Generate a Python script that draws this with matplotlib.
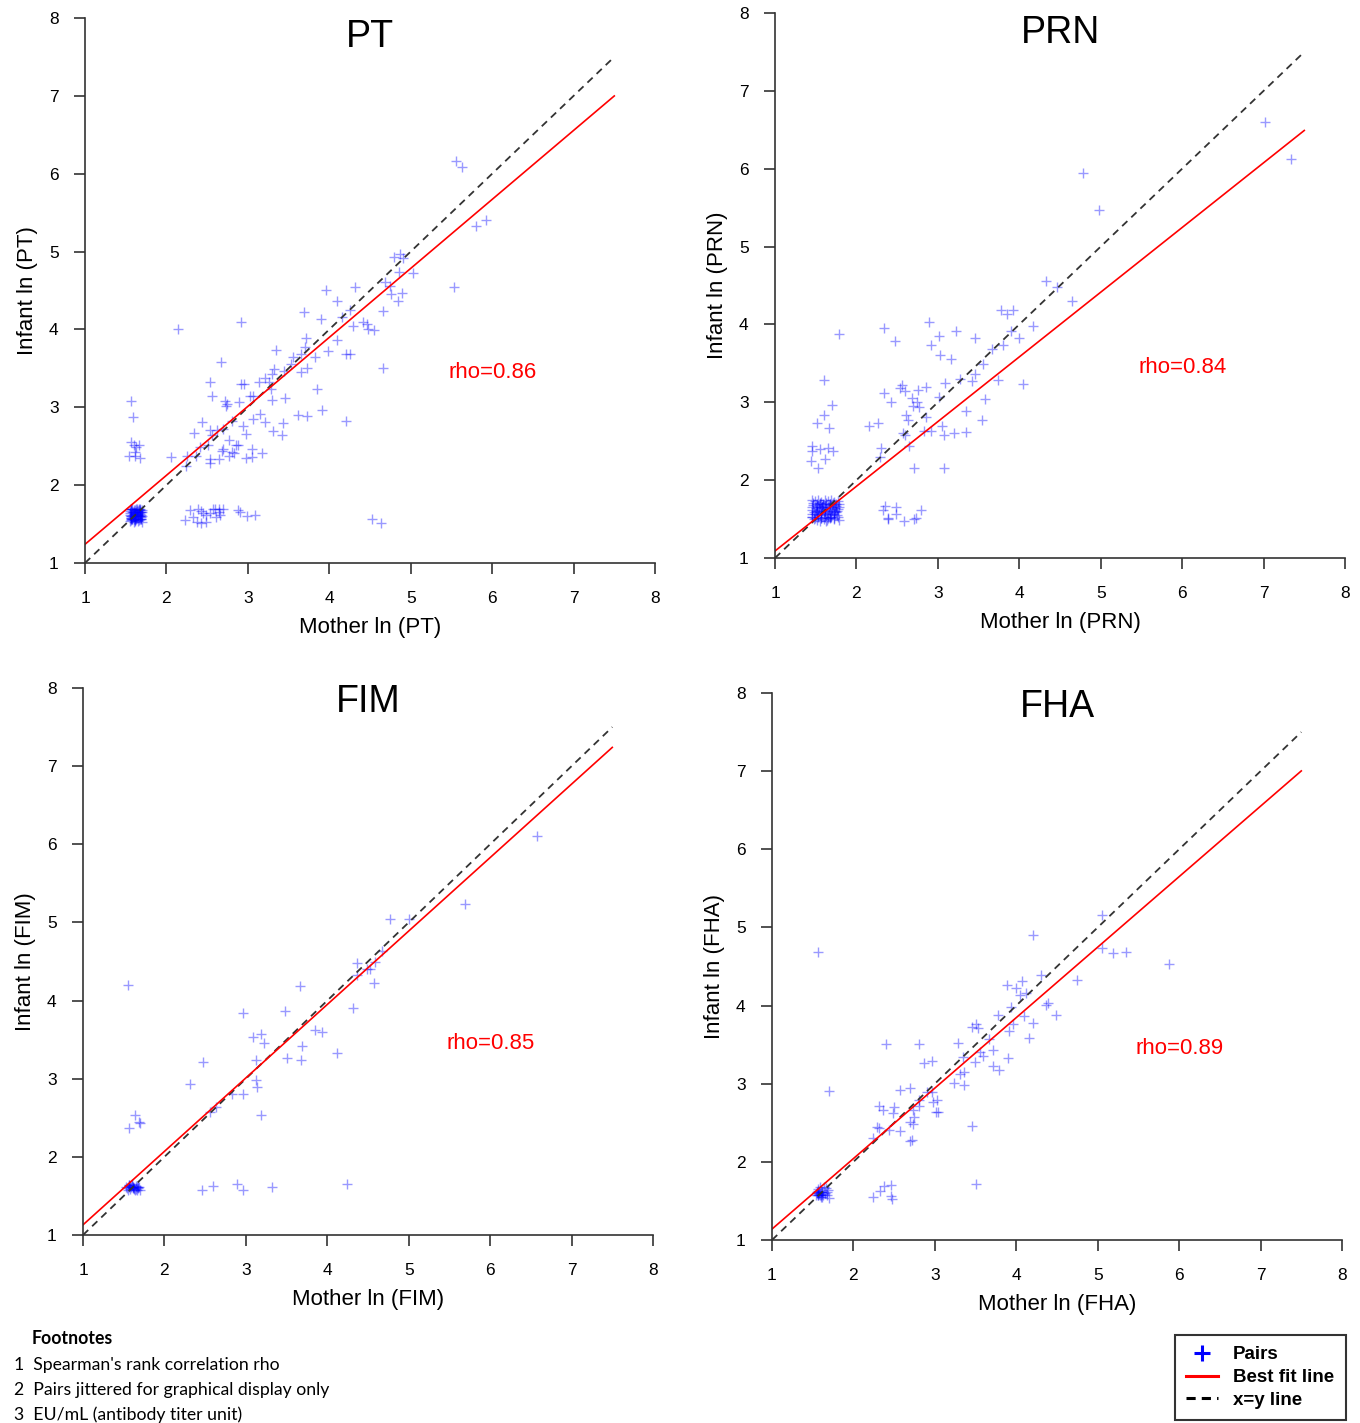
import matplotlib
matplotlib.use("Agg")
import matplotlib.pyplot as plt
from matplotlib.lines import Line2D
import numpy as np

plt.rcParams['font.family'] = ['Liberation Sans', 'DejaVu Sans']

# ---- PT: mother vs infant ln titers ----
pt_mother = [4.79, 4.87, 4.90, 5.03, 4.86, 4.75, 4.89, 4.85, 4.76, 4.66,
             5.53, 4.66, 4.32, 3.96, 4.09, 3.69, 3.90, 4.15, 4.25, 4.09,
             3.72, 3.70, 3.34, 3.55, 3.65, 3.83, 3.99, 4.21, 4.26, 4.29,
             4.41, 4.46, 4.48, 4.55, 4.21, 3.85, 3.91, 3.73, 3.62, 3.73,
             3.65, 3.53, 3.44, 3.32, 3.30, 3.21, 3.26, 3.14, 3.29, 3.46,
             3.30, 3.06, 2.92, 2.95, 2.92, 2.54, 2.56, 2.67, 2.72, 2.74,
             2.73, 2.89, 3.03, 3.15, 3.06, 3.21, 2.94, 2.98, 3.05, 3.31,
             3.43, 3.42, 2.81, 2.70, 2.62, 2.54, 2.44, 2.34, 2.56, 2.51,
             2.41, 2.36, 2.25, 2.06, 2.24, 2.54, 2.54, 2.65, 2.69, 2.77,
             2.85, 2.88, 2.83, 2.80, 2.68, 2.77, 2.98, 3.05, 3.17, 2.14,
             1.57, 1.59, 1.57, 1.60, 1.66, 1.63, 1.54, 1.61, 1.67, 1.62,
             2.29, 2.39, 2.42, 2.45, 2.49, 2.53, 2.57, 2.60, 2.65, 2.70,
             2.64, 2.66, 2.33, 2.23, 2.38, 2.43, 2.49, 2.61, 2.88, 2.90,
             2.99, 3.09, 4.53, 4.64, 5.56, 5.63, 5.80, 5.93, 4.68,
             1.55, 1.57, 1.60, 1.62, 1.65, 1.68, 1.70, 1.56, 1.59, 1.61,
             1.64, 1.67, 1.69, 1.55, 1.58, 1.62, 1.63, 1.66, 1.70, 1.57,
             1.60, 1.63, 1.65, 1.68, 1.56, 1.59, 1.61, 1.64, 1.67, 1.69,
             1.58, 1.66, 1.60, 1.69, 1.56,
             1.56, 1.58, 1.61, 1.63, 1.66, 1.69, 1.57, 1.60, 1.62, 1.65,
             1.68, 1.70, 1.55, 1.59, 1.62, 1.64, 1.67, 1.69, 1.56, 1.58,
             1.61, 1.64, 1.66, 1.70, 1.57, 1.60, 1.63, 1.65, 1.68, 1.55]
pt_infant = [4.93, 4.97, 4.92, 4.73, 4.74, 4.56, 4.47, 4.36, 4.45, 4.24,
             4.55, 3.50, 4.55, 4.51, 4.37, 4.22, 4.14, 4.16, 4.25, 3.87,
             3.89, 3.78, 3.74, 3.64, 3.68, 3.65, 3.72, 3.69, 3.69, 4.04,
             4.10, 4.07, 4.00, 3.99, 2.83, 3.24, 2.97, 2.89, 2.90, 3.50,
             3.45, 3.56, 3.47, 3.49, 3.43, 3.37, 3.32, 3.32, 3.23, 3.12,
             3.09, 3.14, 3.30, 3.30, 4.10, 3.32, 3.15, 3.58, 3.08, 3.04,
             3.02, 3.07, 3.14, 2.92, 2.85, 2.81, 2.76, 2.66, 2.47, 2.70,
             2.80, 2.65, 2.83, 2.72, 2.71, 2.71, 2.81, 2.67, 2.64, 2.52,
             2.49, 2.38, 2.37, 2.36, 2.25, 2.33, 2.28, 2.34, 2.46, 2.58,
             2.51, 2.51, 2.41, 2.42, 2.44, 2.37, 2.35, 2.36, 2.41, 4.01,
             3.08, 2.88, 2.55, 2.52, 2.51, 2.49, 2.38, 2.37, 2.35, 2.42,
             1.68, 1.70, 1.67, 1.64, 1.62, 1.64, 1.69, 1.70, 1.70, 1.70,
             1.66, 1.62, 1.59, 1.55, 1.53, 1.52, 1.53, 1.59, 1.68, 1.65,
             1.61, 1.62, 1.57, 1.52, 6.16, 6.09, 5.33, 5.41, 4.61,
             1.54, 1.56, 1.53, 1.55, 1.54, 1.56, 1.53, 1.60, 1.59, 1.61,
             1.58, 1.60, 1.59, 1.64, 1.65, 1.63, 1.66, 1.64, 1.65, 1.69,
             1.68, 1.70, 1.67, 1.69, 1.58, 1.62, 1.57, 1.62, 1.66, 1.62,
             1.56, 1.68, 1.66, 1.57, 1.70,
             1.55, 1.57, 1.54, 1.58, 1.55, 1.57, 1.61, 1.63, 1.60, 1.62,
             1.63, 1.61, 1.67, 1.66, 1.68, 1.67, 1.68, 1.66, 1.70, 1.69,
             1.64, 1.70, 1.70, 1.68, 1.58, 1.56, 1.56, 1.60, 1.60, 1.62]

# ---- PRN ----
prn_mother = [4.33, 4.46, 4.65, 3.77, 3.85, 3.92, 4.17, 4.00, 3.90, 3.80,
              3.67, 3.56, 3.46, 3.42, 3.27, 3.09, 3.58, 3.35, 3.54, 3.74,
              4.05, 3.05, 3.07, 3.20, 3.35, 3.07, 2.71, 2.89, 3.01, 3.22,
              3.46, 2.92, 3.03, 3.16, 2.34, 2.47, 1.79, 1.60, 1.70, 1.60,
              1.52, 1.66, 1.45, 1.45, 1.55, 1.65, 1.71, 1.44, 1.61, 1.53,
              2.34, 2.42, 2.54, 2.56, 2.60, 2.68, 2.76, 2.85, 2.70, 2.74,
              2.77, 2.61, 2.63, 2.57, 2.60, 2.65, 2.83, 2.92, 2.86, 3.02,
              2.15, 2.27, 2.30, 2.29, 2.35, 2.33, 2.49, 2.49, 2.39, 2.58,
              2.71, 2.73, 2.79, 2.39, 7.02, 7.34, 4.78, 4.98,
              1.45, 1.49, 1.53, 1.57, 1.61, 1.65, 1.69, 1.73, 1.77, 1.47,
              1.51, 1.55, 1.59, 1.63, 1.67, 1.71, 1.75, 1.78, 1.45, 1.50,
              1.54, 1.58, 1.62, 1.66, 1.70, 1.74, 1.77, 1.46, 1.49, 1.53,
              1.57, 1.61, 1.65, 1.69, 1.73, 1.76, 1.48, 1.52, 1.56, 1.60,
              1.64, 1.68, 1.72, 1.78, 1.45, 1.51, 1.58, 1.67, 1.75,
              1.47, 1.51, 1.55, 1.59, 1.63, 1.67, 1.71, 1.75, 1.46, 1.50,
              1.54, 1.58, 1.62, 1.66, 1.70, 1.74, 1.78, 1.48, 1.52, 1.56,
              1.60, 1.64, 1.68, 1.72, 1.76, 1.45, 1.49, 1.53, 1.57, 1.61,
              1.65, 1.69, 1.73, 1.77, 1.55, 1.63]
prn_infant = [4.56, 4.48, 4.30, 4.19, 4.14, 4.19, 3.98, 3.83, 3.92, 3.74,
              3.69, 3.49, 3.36, 3.27, 3.30, 3.25, 3.04, 2.89, 2.77, 3.28,
              3.24, 2.69, 2.58, 2.60, 2.62, 2.15, 2.16, 4.03, 3.85, 3.91,
              3.83, 3.74, 3.61, 3.56, 3.95, 3.79, 3.88, 3.28, 2.97, 2.84,
              2.73, 2.67, 2.44, 2.37, 2.40, 2.41, 2.38, 2.25, 2.27, 2.15,
              3.12, 3.00, 3.18, 3.22, 3.14, 3.06, 3.16, 3.20, 2.95, 3.00,
              2.94, 2.84, 2.77, 2.61, 2.58, 2.44, 2.63, 2.63, 2.81, 3.07,
              2.70, 2.74, 2.41, 2.30, 1.67, 1.62, 1.65, 1.56, 1.50, 1.47,
              1.50, 1.51, 1.62, 1.52, 6.60, 6.12, 5.95, 5.47,
              1.74, 1.73, 1.74, 1.72, 1.74, 1.73, 1.74, 1.72, 1.73, 1.68,
              1.67, 1.69, 1.68, 1.67, 1.69, 1.68, 1.67, 1.69, 1.62, 1.61,
              1.63, 1.62, 1.61, 1.63, 1.62, 1.61, 1.63, 1.56, 1.57, 1.55,
              1.56, 1.57, 1.55, 1.56, 1.57, 1.55, 1.50, 1.49, 1.51, 1.50,
              1.49, 1.51, 1.50, 1.49, 1.53, 1.59, 1.65, 1.53, 1.59,
              1.71, 1.70, 1.71, 1.70, 1.71, 1.70, 1.71, 1.70, 1.65, 1.64,
              1.65, 1.66, 1.64, 1.65, 1.66, 1.64, 1.65, 1.59, 1.60, 1.58,
              1.59, 1.60, 1.58, 1.59, 1.60, 1.53, 1.52, 1.53, 1.52, 1.53,
              1.52, 1.53, 1.52, 1.53, 1.48, 1.48]

# ---- FIM ----
fim_mother = [1.55, 4.36, 4.37, 4.49, 4.52, 4.57, 4.59, 4.67, 3.66, 3.48,
              2.97, 4.31, 3.85, 3.93, 4.12, 3.09, 3.19, 3.22, 3.13, 3.51,
              3.69, 3.68, 2.47, 2.32, 3.12, 3.14, 2.96, 2.83, 2.63, 2.56,
              3.19, 1.64, 1.69, 1.70, 1.57, 2.46, 2.60, 2.89, 2.96, 3.32,
              4.24, 6.57, 5.69, 4.77, 5.00,
              1.53, 1.56, 1.59, 1.62, 1.65, 1.68, 1.70, 1.55, 1.58, 1.61,
              1.64, 1.67, 1.57, 1.60, 1.63, 1.66,
              1.54, 1.57, 1.60, 1.63, 1.66, 1.69, 1.58, 1.62, 1.65, 1.56]
fim_infant = [4.20, 4.48, 4.33, 4.41, 4.40, 4.23, 4.50, 4.64, 4.19, 3.87,
              3.84, 3.90, 3.62, 3.60, 3.33, 3.53, 3.57, 3.46, 3.24, 3.27,
              3.42, 3.24, 3.22, 2.93, 2.98, 2.90, 2.80, 2.81, 2.64, 2.58,
              2.54, 2.54, 2.45, 2.43, 2.37, 1.58, 1.63, 1.65, 1.57, 1.61,
              1.65, 6.10, 5.24, 5.04, 5.04,
              1.62, 1.63, 1.61, 1.62, 1.63, 1.60, 1.58, 1.58, 1.59, 1.60,
              1.57, 1.62, 1.64, 1.65, 1.60, 1.58,
              1.60, 1.61, 1.64, 1.59, 1.61, 1.62, 1.63, 1.61, 1.59, 1.64]

# ---- FHA ----
fha_mother = [1.56, 5.05, 4.21, 5.05, 5.19, 5.35, 5.87, 4.74, 4.30, 4.07,
              3.89, 4.00, 4.12, 4.05, 4.37, 4.39, 4.49, 3.94, 3.78, 4.10,
              3.96, 4.21, 3.91, 4.15, 3.45, 3.51, 3.53, 3.66, 3.55, 3.59,
              3.71, 3.49, 3.71, 3.79, 3.90, 3.29, 3.34, 3.31, 3.36, 3.24,
              3.36, 2.97, 3.03, 2.98, 3.01, 3.04, 2.90, 2.80, 2.81, 2.74,
              2.73, 2.69, 2.73, 2.57, 2.69, 2.72, 2.40, 2.81, 2.87, 2.96,
              2.57, 2.70, 2.31, 2.36, 2.50, 2.48, 2.29, 2.32, 2.44, 2.24,
              1.70, 3.46, 3.50, 2.37, 2.46, 2.33, 2.24, 2.46, 2.47, 1.70,
              1.54, 1.57, 1.60, 1.63, 1.66, 1.69, 1.56, 1.59, 1.62, 1.65,
              1.58, 1.57, 1.60, 1.55, 1.68,
              1.56, 1.58, 1.59, 1.61, 1.57, 1.60, 1.62, 1.55, 1.64, 1.67]
fha_infant = [4.69, 5.16, 4.90, 4.74, 4.67, 4.68, 4.53, 4.33, 4.39, 4.32,
              4.26, 4.23, 4.16, 4.14, 4.01, 4.03, 3.88, 3.98, 3.88, 3.87,
              3.77, 3.78, 3.67, 3.59, 3.73, 3.77, 3.71, 3.57, 3.41, 3.35,
              3.43, 3.28, 3.23, 3.17, 3.33, 3.52, 3.34, 3.13, 3.15, 3.01,
              2.98, 2.89, 2.79, 2.77, 2.64, 2.64, 2.89, 2.79, 2.71, 2.58,
              2.66, 2.51, 2.49, 2.40, 2.27, 2.28, 3.51, 3.51, 3.27, 3.29,
              2.92, 2.94, 2.72, 2.66, 2.70, 2.62, 2.45, 2.43, 2.41, 2.30,
              2.91, 2.46, 1.72, 1.69, 1.71, 1.63, 1.55, 1.56, 1.53, 1.54,
              1.58, 1.60, 1.62, 1.57, 1.66, 1.64, 1.65, 1.68, 1.55, 1.60,
              1.59, 1.58, 1.57, 1.61, 1.58,
              1.58, 1.61, 1.57, 1.59, 1.63, 1.55, 1.62, 1.60, 1.68, 1.62]

antigens = ["PT", "PRN", "FIM", "FHA"]
mothers = [pt_mother, prn_mother, fim_mother, fha_mother]
infants = [pt_infant, prn_infant, fim_infant, fha_infant]
fit_intercept = [0.354, 0.259, 0.19, 0.238]
fit_slope = [0.886, 0.831, 0.940, 0.902]
rho_values = ["0.86", "0.84", "0.85", "0.89"]
ticks = [1, 2, 3, 4, 5, 6, 7, 8]

footnotes = ["1  Spearman's rank correlation rho",
             "2  Pairs jittered for graphical display only",
             "3  EU/mL (antibody titer unit)"]

W, H = 1360, 1423
fig = plt.figure(figsize=(W / 100, H / 100), dpi=100)

# axes boxes in pixels: left, right, top, bottom
boxes = [(85, 655, 18, 563), (775, 1345, 13, 558),
         (83, 653, 688, 1235), (772, 1342, 693, 1240)]
title_y = [7.76, 7.74, 7.82, 7.82]

for i, name in enumerate(antigens):
    l, r, t, b = boxes[i]
    ax = fig.add_axes([l / W, 1 - b / H, (r - l) / W, (b - t) / H])
    ax.set_xlim(1, 8)
    ax.set_ylim(1, 8)
    ax.spines['top'].set_visible(False)
    ax.spines['right'].set_visible(False)
    for s in ['left', 'bottom']:
        ax.spines[s].set_color('#333333')
        ax.spines[s].set_linewidth(1.2)
    ax.set_xticks(ticks)
    ax.set_yticks(ticks)
    ax.tick_params(direction='out', length=8, width=1.2, color='#333333',
                   labelsize=12.5)
    ax.tick_params(axis='x', pad=12)
    ax.tick_params(axis='y', pad=11)

    xs = np.array(mothers[i])
    ys = np.array(infants[i])
    ax.plot(xs, ys, linestyle='none', marker='+', markersize=6.5,
            markeredgewidth=1.0, color='blue', alpha=0.4, clip_on=False)

    line_x = np.array([1.0, 7.5])
    ax.plot(line_x, line_x, linestyle=(0, (4, 3)), color='#333333', lw=1.3)
    ax.plot(line_x, fit_intercept[i] + fit_slope[i] * line_x,
            color='red', lw=1.2)

    ax.text(6.0, 3.45, "rho=" + rho_values[i], color='red', fontsize=16,
            ha='center', va='center')
    ax.text(4.5, title_y[i], name, fontsize=27, ha='center', va='center')
    ax.set_xlabel("Mother ln (%s)" % name, fontsize=16, labelpad=8)
    ax.set_ylabel("Infant ln (%s)" % name, fontsize=16, labelpad=8)

# footnotes
fig.text(32 / W, 1 - 1339 / H, "Footnotes", fontsize=12.7,
         fontweight='bold', family='Lato', va='center', ha='left')
for k, line in enumerate(footnotes):
    fig.text(14 / W, 1 - (1365 + 25 * k) / H, line, fontsize=12.7,
             family='Lato', va='center', ha='left')

# legend
handles = [Line2D([], [], linestyle='none', marker='+', markersize=12,
                  markeredgewidth=2.2, color='blue'),
           Line2D([], [], color='red', lw=2.2),
           Line2D([], [], color='black', lw=2.2, linestyle=(0, (3, 2)))]
leg = fig.legend(handles, ["Pairs", "Best fit line", "x=y line"],
                 loc='upper left', bbox_to_anchor=(1175 / W, 1 - 1335 / H),
                 frameon=True, fancybox=False,
                 prop={'size': 13.5, 'weight': 'bold'},
                 handlelength=1.7, handletextpad=0.8, labelspacing=0.3,
                 borderpad=0.6, borderaxespad=0)
leg.get_frame().set_edgecolor('black')
leg.get_frame().set_linewidth(1.5)

fig.savefig("out.png", dpi=100)
